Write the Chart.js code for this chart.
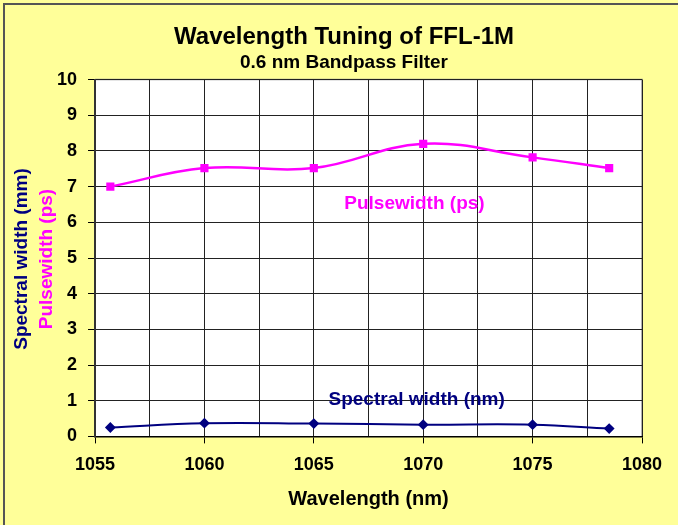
<!DOCTYPE html>
<html>
<head>
<meta charset="utf-8">
<script src="https://cdn.jsdelivr.net/npm/chart.js@4/dist/chart.umd.min.js"></script>
<style>
  html, body { margin: 0; padding: 0; background: #ffff99; overflow: hidden; }
  #frame {
    position: absolute; left: 3px; top: 3px; width: 690px; height: 540px;
    border-top: 2px solid #555; border-left: 2px solid #555;
  }
  #wrap { position: absolute; left: 0; top: 0; width: 678px; height: 525px; }
</style>
</head>
<body>
<div id="frame"></div>
<div id="wrap"><canvas id="c" width="678" height="525"></canvas></div>
<script>
'use strict';

// wavelengths where the filter was set (nm)
var wavelengths = [1055.7, 1060.0, 1065.0, 1070.0, 1075.0, 1078.5];
// pulse width (ps)
var pulsewidth = [7.0, 7.52, 7.52, 8.2, 7.82, 7.52];
// spectral width (nm)
var spectralWidth = [0.25, 0.37, 0.36, 0.33, 0.33, 0.22];

var xTicks = [1055, 1060, 1065, 1070, 1075, 1080];
var yTicks = [0, 1, 2, 3, 4, 5, 6, 7, 8, 9, 10];

var FONT = '"Liberation Sans", Arial, sans-serif';
var MAGENTA = '#ff00ff';
var NAVY = '#000080';

function points(ys) {
    return wavelengths.map(function(x, i) { return { x: x, y: ys[i] }; });
}

// labels written inside the plot + two coloured y titles
var extraText = {
    id: 'extraText',
    afterDraw: function(chart) {
        var ctx = chart.ctx,
            x = chart.scales.x,
            y = chart.scales.y;
        ctx.save();
        ctx.font = 'bold 19px ' + FONT;
        ctx.textAlign = 'center';
        ctx.textBaseline = 'middle';
        ctx.fillStyle = MAGENTA;
        ctx.fillText('Pulsewidth (ps)', x.getPixelForValue(1069.6), y.getPixelForValue(6.53));
        ctx.fillStyle = NAVY;
        ctx.fillText('Spectral width (nm)', x.getPixelForValue(1069.7), y.getPixelForValue(1.04));

        ctx.translate(22, 259);
        ctx.rotate(-Math.PI / 2);
        ctx.fillStyle = NAVY;
        ctx.fillText('Spectral width (mm)', 0, 0);
        ctx.translate(0, 25);
        ctx.fillStyle = MAGENTA;
        ctx.fillText('Pulsewidth (ps)', 0, 0);
        ctx.restore();
    }
};

new Chart(document.getElementById('c').getContext('2d'), {
    type: 'scatter',
    data: {
        datasets: [{
            label: 'Pulsewidth (ps)',
            data: points(pulsewidth),
            showLine: true,
            tension: 0.4,
            borderColor: MAGENTA,
            backgroundColor: MAGENTA,
            borderWidth: 2.5,
            pointStyle: 'rect',
            pointRadius: 4,
            pointHoverRadius: 4
        }, {
            label: 'Spectral width (nm)',
            data: points(spectralWidth),
            showLine: true,
            tension: 0.4,
            borderColor: NAVY,
            backgroundColor: NAVY,
            borderWidth: 2,
            pointStyle: 'rectRot',
            pointRadius: 4,
            pointHoverRadius: 4
        }]
    },
    options: {
        responsive: false,
        animation: false,
        layout: { padding: { left: 46, right: 36, top: 0, bottom: 14 } },
        plugins: {
            legend: { display: false },
            tooltip: { enabled: false },
            title: {
                display: true,
                text: 'Wavelength Tuning of FFL-1M',
                color: '#000',
                font: { family: FONT, size: 24, weight: 'bold' },
                padding: { top: 23, bottom: 0 }
            },
            subtitle: {
                display: true,
                text: '0.6 nm Bandpass Filter',
                color: '#000',
                font: { family: FONT, size: 19, weight: 'bold' },
                padding: { top: 0, bottom: 5 }
            }
        },
        scales: {
            x: {
                type: 'linear',
                min: 1055,
                max: 1080,
                afterBuildTicks: function(axis) {
                    var t = [];
                    for (var v = 1055; v <= 1080; v += 2.5) t.push({ value: v });
                    axis.ticks = t;
                },
                ticks: {
                    color: '#000',
                    font: { family: FONT, size: 18, weight: 'bold' },
                    maxRotation: 0,
                    autoSkip: false,
                    padding: 11,
                    callback: function(v) { return xTicks.indexOf(v) >= 0 ? String(v) : ''; }
                },
                grid: {
                    color: '#222',
                    lineWidth: 1,
                    tickLength: 7,
                    tickColor: function(c) {
                        return xTicks.indexOf(c.tick.value) >= 0 ? '#000' : 'rgba(0,0,0,0)';
                    }
                },
                border: { color: '#000', width: 1.5 },
                title: {
                    display: true,
                    text: 'Wavelength (nm)',
                    color: '#000',
                    font: { family: FONT, size: 20, weight: 'bold' },
                    padding: { top: 0, bottom: 0 }
                }
            },
            y: {
                min: 0,
                max: 10,
                afterBuildTicks: function(axis) {
                    axis.ticks = yTicks.map(function(v) { return { value: v }; });
                },
                ticks: {
                    color: '#000',
                    font: { family: FONT, size: 18, weight: 'bold' },
                    padding: 11
                },
                grid: {
                    color: '#222',
                    lineWidth: 1,
                    tickLength: 7,
                    tickColor: '#000'
                },
                border: { color: '#333', width: 2 }
            }
        }
    },
    plugins: [extraText, {
        id: 'plotBg',
        beforeDraw: function(chart) {
            var a = chart.chartArea, ctx = chart.ctx;
            ctx.save();
            ctx.fillStyle = '#fff';
            ctx.fillRect(a.left, a.top, a.right - a.left, a.bottom - a.top);
            ctx.strokeStyle = '#999';
            ctx.lineWidth = 1.5;
            ctx.beginPath();
            ctx.moveTo(a.left, a.top);
            ctx.lineTo(a.right, a.top);
            ctx.lineTo(a.right, a.bottom);
            ctx.stroke();
            ctx.restore();
        }
    }]
});
</script>
</body>
</html>
